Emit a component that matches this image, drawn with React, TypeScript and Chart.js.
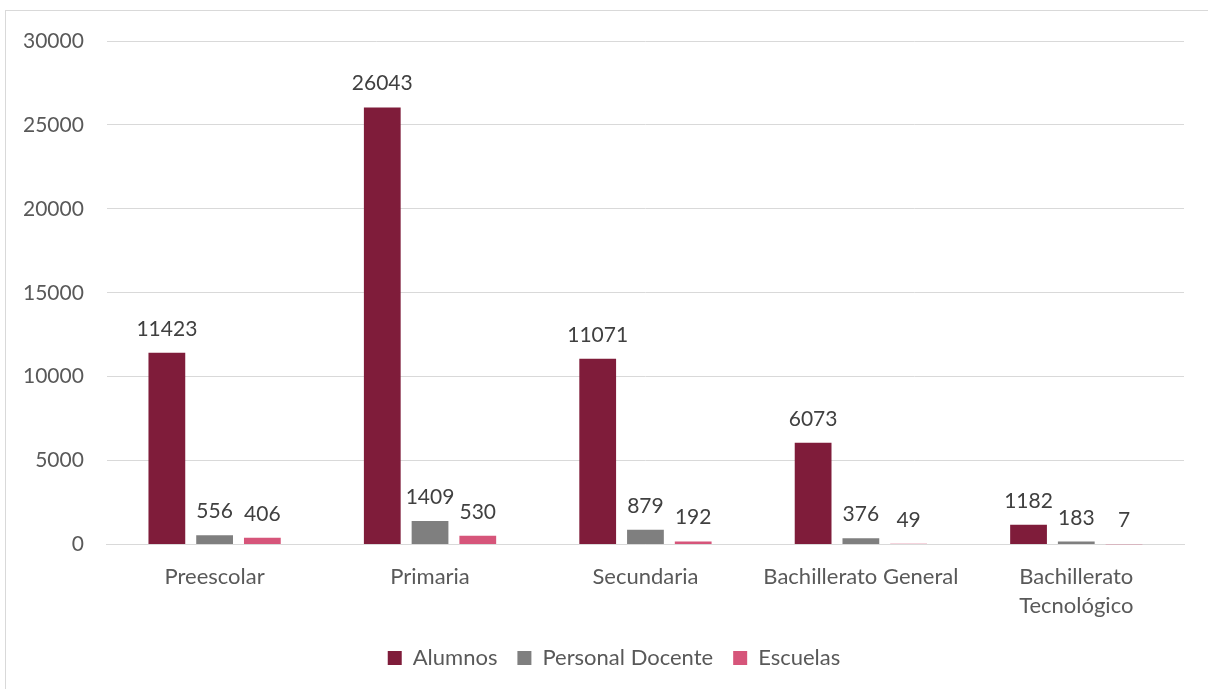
import React, { useEffect, useRef } from "react";
import { Chart, registerables } from "chart.js";

Chart.register(...registerables);

const categories: (string | string[])[] = [
  "Preescolar",
  "Primaria",
  "Secundaria",
  "Bachillerato General",
  ["Bachillerato", "Tecnológico"],
];
const alumnos = [11423, 26043, 11071, 6073, 1182];
const personalDocente = [556, 1409, 879, 376, 183];
const escuelas = [406, 530, 192, 49, 7];
const yMax = 30000;
const yStep = 5000;

const FONT = "Lato";

const valueLabels = {
  id: "valueLabels",
  afterDatasetsDraw(chart: any) {
    const ctx = chart.ctx;
    ctx.save();
    ctx.font = `21px ${FONT}`;
    ctx.fillStyle = "#404040";
    ctx.textAlign = "center";
    ctx.textBaseline = "alphabetic";
    chart.data.datasets.forEach((ds: any, i: number) => {
      const meta = chart.getDatasetMeta(i);
      meta.data.forEach((bar: any, j: number) => {
        ctx.fillText(String(ds.data[j]), bar.x, bar.y - 17);
      });
    });
    ctx.restore();
  },
};

const legendShift = {
  id: "legendShift",
  afterLayout(chart: any) {
    if (chart.legend) {
      chart.legend.left += 22;
      chart.legend.right += 22;
    }
  },
};

export default function App() {
  const ref = useRef<HTMLCanvasElement>(null);

  useEffect(() => {
    document.body.style.margin = "0";
    document.body.style.overflow = "hidden";
    const chart = new Chart(ref.current!, {
      type: "bar",
      data: {
        labels: categories,
        datasets: [
          { label: "Alumnos", data: alumnos, backgroundColor: "#7F1C3A" },
          { label: "Personal Docente", data: personalDocente, backgroundColor: "#7F7F7F" },
          { label: "Escuelas", data: escuelas, backgroundColor: "#D6557A" },
        ],
      },
      options: {
        animation: false,
        responsive: false,
        maintainAspectRatio: false,
        datasets: { bar: { categoryPercentage: 0.665, barPercentage: 0.77 } },
        layout: { padding: { left: 0, right: 24, top: 41, bottom: 10 } },
        plugins: {
          legend: {
            position: "bottom",
            labels: {
              boxWidth: 14,
              boxHeight: 14,
              padding: 20,
              color: "#595959",
              font: { family: FONT, size: 22 },
            },
          },
          tooltip: { enabled: false },
        },
        scales: {
          x: {
            grid: { display: false },
            border: { color: "#D9D9D9", width: 1 },
            ticks: {
              color: "#595959",
              font: { family: FONT, size: 22, lineHeight: 1.35 },
              padding: 9,
              maxRotation: 0,
              autoSkip: false,
            },
            afterFit: (scale: any) => {
              scale.height -= 3;
            },
          },
          y: {
            min: 0,
            max: yMax,
            grid: { color: "#D9D9D9", drawTicks: false },
            border: { display: false },
            ticks: {
              stepSize: yStep,
              color: "#595959",
              font: { family: FONT, size: 21 },
              padding: 23,
              callback: (v: any) => String(v),
            },
          },
        },
      },
      plugins: [valueLabels, legendShift],
    });
    return () => chart.destroy();
  }, []);

  return (
    <div style={{ position: "relative", width: 1208, height: 689, overflow: "hidden" }}>
      <canvas ref={ref} width={1208} height={689} style={{ position: "absolute", left: 0, top: 0 }} />
      <div
        style={{
          position: "absolute",
          left: 5,
          top: 10,
          width: 1220,
          height: 700,
          borderLeft: "1px solid #D9D9D9",
          borderTop: "1px solid #D9D9D9",
          pointerEvents: "none",
        }}
      />
    </div>
  );
}
